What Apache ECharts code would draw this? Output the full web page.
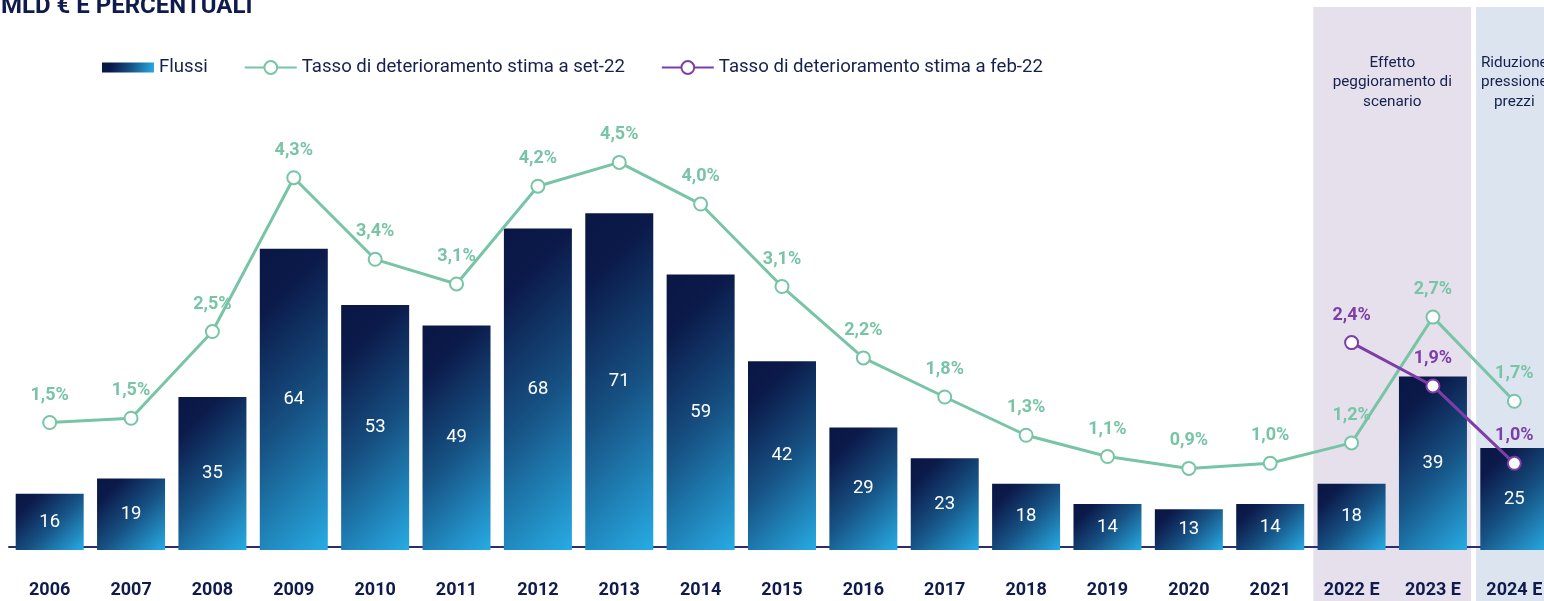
<!DOCTYPE html>
<html>
<head>
<meta charset="utf-8">
<script src="https://cdn.jsdelivr.net/npm/echarts@6/dist/echarts.min.js"></script>
<style>
  html, body { margin: 0; padding: 0; background: #fff; }
  #main { width: 1544px; height: 601px; }
</style>
</head>
<body>
<div id="main"></div>
<script>
// dati
var anni = ['2006', '2007', '2008', '2009', '2010', '2011', '2012', '2013', '2014', '2015',
            '2016', '2017', '2018', '2019', '2020', '2021', '2022 E', '2023 E', '2024 E'];
var flussi = [16, 19, 35, 64, 53, 49, 68, 71, 59, 42, 29, 23, 18, 14, 13, 14, 18, 39, 25];
var tassoSet22 = [1.46, 1.51, 2.53, 4.34, 3.38, 3.09, 4.24, 4.52, 4.03, 3.06,
                  2.22, 1.76, 1.31, 1.06, 0.92, 0.98, 1.22, 2.70, 1.71];
var tassoFeb22 = ['-', '-', '-', '-', '-', '-', '-', '-', '-', '-',
                  '-', '-', '-', '-', '-', '-', 2.40, 1.89, 0.98];

var verde = '#78C4A7';
var viola = '#7D3FA7';
var blu = '#14214F';

var myChart = echarts.init(document.getElementById('main'));

function pct(p) {
    return p.value.toFixed(1).replace('.', ',') + '%';
}

var stopsBarre = [
    { offset: 0, color: '#0A1745' },
    { offset: 0.18, color: '#0B1A4A' },
    { offset: 0.55, color: '#175284' },
    { offset: 1, color: '#27ACE4' }
];

var option = {
    animation: false,
    textStyle: { fontFamily: 'Roboto' },
    title: {
        text: 'MLD € E PERCENTUALI',
        left: 1,
        top: -5,
        padding: 0,
        textStyle: { fontSize: 24, fontWeight: 'bold', color: '#0F1B4C', fontFamily: 'Roboto' }
    },
    legend: {
        left: 102,
        top: 58,
        padding: 0,
        itemWidth: 52,
        itemHeight: 16,
        itemGap: 36,
        textStyle: { fontSize: 18.6, color: blu, fontFamily: 'Roboto' },
        data: [
            { name: 'Flussi', icon: 'path://M0 0h52v10H0z' },
            { name: 'Tasso di deterioramento stima a set-22', itemStyle: { borderWidth: 3 } },
            { name: 'Tasso di deterioramento stima a feb-22', itemStyle: { borderWidth: 3 } }
        ]
    },
    grid: { left: 9, top: 60, bottom: 51, width: 1546, outerBoundsMode: 'none', containLabel: false },
    xAxis: {
        type: 'category',
        data: anni,
        axisTick: { show: false },
        axisLine: { lineStyle: { color: '#2B2E6B', width: 2 } },
        axisLabel: { fontSize: 18, fontWeight: 'bold', color: '#0F1B4C', margin: 31, interval: 0 }
    },
    yAxis: [
        { type: 'value', min: 5, max: 101, startValue: 5, show: false, splitLine: { show: false } },
        { type: 'value', min: -0.04, max: 5.725, show: false, splitLine: { show: false } }
    ],
    series: [
        {
            name: 'Flussi',
            type: 'bar',
            barWidth: 68,
            data: flussi,
            itemStyle: {
                color: new echarts.graphic.LinearGradient(0, 0, 1, 1, stopsBarre)
            },
            label: { show: true, position: 'inside', color: '#fff', fontSize: 18.5 }
        },
        {
            name: 'Tasso di deterioramento stima a set-22',
            type: 'line',
            yAxisIndex: 1,
            data: tassoSet22,
            symbol: 'emptyCircle',
            symbolSize: 13,
            lineStyle: { color: verde, width: 3 },
            itemStyle: { color: verde, borderWidth: 3 },
            label: { show: true, position: 'top', distance: 11, color: verde, fontSize: 18, fontWeight: 'bold', formatter: pct }
        },
        {
            name: 'Tasso di deterioramento stima a feb-22',
            type: 'line',
            yAxisIndex: 1,
            data: tassoFeb22,
            symbol: 'emptyCircle',
            symbolSize: 13,
            lineStyle: { color: viola, width: 3 },
            itemStyle: { color: viola, borderWidth: 3 },
            label: { show: true, position: 'top', distance: 11, color: viola, fontSize: 18, fontWeight: 'bold', formatter: pct }
        }
    ]
};

myChart.setOption(option);

// gradiente a 45 gradi per ogni barra (come nell'originale)
var base = myChart.convertToPixel({ yAxisIndex: 0 }, 5);
var larg = 68;
var datiBarre = flussi.map(function (v) {
    var h = base - myChart.convertToPixel({ yAxisIndex: 0 }, v);
    var d = (larg + h) / 2;
    return {
        value: v,
        itemStyle: { color: new echarts.graphic.LinearGradient(0, 0, d / larg, d / h, stopsBarre) }
    };
});

// riquadri scenario
var x22 = myChart.convertToPixel({ xAxisIndex: 0 }, '2022 E');
var x23 = myChart.convertToPixel({ xAxisIndex: 0 }, '2023 E');
var x24 = myChart.convertToPixel({ xAxisIndex: 0 }, '2024 E');
var band = x23 - x22;
var pad = 2.5;
myChart.setOption({
    series: [{ name: 'Flussi', data: datiBarre }],
    graphic: [
        { type: 'rect', z: -1, shape: { x: x22 - band / 2 + pad, y: 7, width: band * 2 - pad * 2, height: 600 },
          style: { fill: '#E6E0EC' } },
        { type: 'rect', z: -1, shape: { x: x24 - band / 2 + pad, y: 7, width: band - pad * 2, height: 600 },
          style: { fill: '#DCE4F0' } },
        { type: 'text', z: 5, x: (x22 + x23) / 2, y: 53,
          style: { text: 'Effetto\npeggioramento di\nscenario', align: 'center', verticalAlign: 'top',
                   font: '15.3px Roboto', lineHeight: 19.5, fill: blu } },
        { type: 'text', z: 5, x: x24, y: 53,
          style: { text: 'Riduzione\npressione\nprezzi', align: 'center', verticalAlign: 'top',
                   font: '15.3px Roboto', lineHeight: 19.5, fill: blu } }
    ]
});
</script>
</body>
</html>
